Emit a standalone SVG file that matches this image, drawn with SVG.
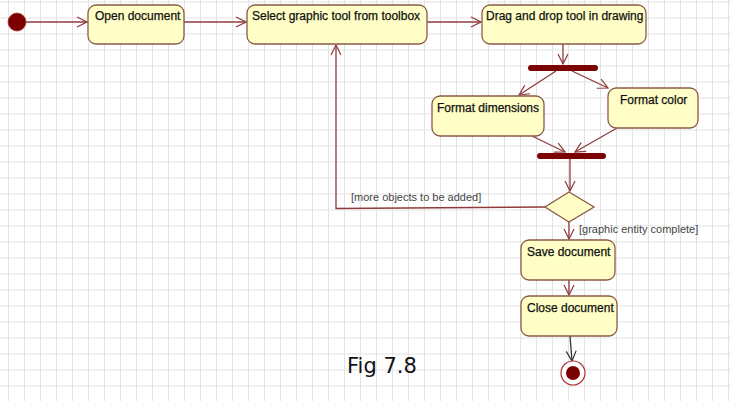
<svg xmlns="http://www.w3.org/2000/svg" width="731" height="401" viewBox="0 0 731 401">
<defs>
<pattern id="grid" width="16" height="16" patternUnits="userSpaceOnUse" x="8" y="1.5">
<path d="M0.5,0 V16 M0,0.5 H16" stroke="#e3e3e3" stroke-width="1" fill="none"/>
</pattern>
<marker id="arr" markerUnits="userSpaceOnUse" markerWidth="12" markerHeight="12" viewBox="0 0 12 12" refX="11" refY="6" orient="auto">
<path d="M1,1 L11,6 L1,11" fill="none" stroke="#8e3b3b" stroke-width="1.2"/>
</marker>
<marker id="arrk" markerUnits="userSpaceOnUse" markerWidth="12" markerHeight="12" viewBox="0 0 12 12" refX="11" refY="6" orient="auto">
<path d="M1,1 L11,6 L1,11" fill="none" stroke="#333" stroke-width="1.2"/>
</marker>
</defs>
<style>
.box{fill:#fefec6;stroke:#8a5a45;stroke-width:1.3}
.t{font-family:"Liberation Sans",Arial,sans-serif;font-size:12px;fill:#111;stroke:#111;stroke-width:0.25}
.g{font-family:"Liberation Sans",Arial,sans-serif;font-size:11px;fill:#444}
.c{fill:none;stroke:#8e3b3b;stroke-width:1.3}
.bar{fill:#7b0505}
</style>
<rect width="731" height="401" fill="#ffffff"/>
<rect width="731" height="401" fill="url(#grid)"/>

<g id="connectors">
<line class="c" x1="26" y1="22" x2="87" y2="22" marker-end="url(#arr)"/>
<line class="c" x1="184" y1="22" x2="246" y2="22" marker-end="url(#arr)"/>
<line class="c" x1="427" y1="22" x2="481" y2="22" marker-end="url(#arr)"/>
<line class="c" x1="563" y1="44" x2="563" y2="64" marker-end="url(#arr)"/>
<line class="c" x1="556" y1="71" x2="519" y2="95" marker-end="url(#arr)"/>
<line class="c" x1="572" y1="71" x2="608" y2="88" marker-end="url(#arr)"/>
<line class="c" x1="532" y1="136" x2="565" y2="152" marker-end="url(#arr)"/>
<line class="c" x1="617" y1="128" x2="575" y2="152" marker-end="url(#arr)"/>
<line class="c" x1="570" y1="159" x2="570" y2="191" marker-end="url(#arr)"/>
<polyline class="c" points="545,207 336,208.5 336,45" marker-end="url(#arr)"/>
<line class="c" x1="569" y1="222" x2="569" y2="239" marker-end="url(#arr)"/>
<line class="c" x1="569" y1="280" x2="569" y2="295" marker-end="url(#arr)"/>
<line x1="570" y1="336" x2="572" y2="361" stroke="#333" stroke-width="1.3" marker-end="url(#arrk)"/>
<text class="g" x="351" y="201">[more objects to be added]</text>
<text class="g" x="579" y="233">[graphic entity complete]</text>
</g>

<g id="initial">
<circle cx="17" cy="22" r="9" fill="#7b0000" stroke="#a33" stroke-width="0.8"/>
</g>

<g id="open-document">
<rect class="box" x="88" y="5" width="96" height="39" rx="8"/>
<text class="t" x="95" y="20">Open document</text>
</g>

<g id="select-tool">
<rect class="box" x="247" y="5" width="180" height="39" rx="8"/>
<text class="t" x="252" y="20">Select graphic tool from toolbox</text>
</g>

<g id="drag-drop">
<rect class="box" x="482" y="5" width="164" height="39" rx="8"/>
<text class="t" x="486" y="20">Drag and drop tool in drawing</text>
</g>

<g id="fork">
<rect class="bar" x="528" y="65" width="70" height="6" rx="3"/>
</g>

<g id="format-dimensions">
<rect class="box" x="432" y="96" width="112" height="40" rx="8"/>
<text class="t" x="437" y="112">Format dimensions</text>
</g>

<g id="format-color">
<rect class="box" x="608" y="88" width="90" height="40" rx="8"/>
<text class="t" x="620" y="104">Format color</text>
</g>

<g id="join">
<rect class="bar" x="537" y="153" width="69" height="6" rx="3"/>
</g>

<g id="decision">
<polygon points="569,192 594,207 569,222 545,207" fill="#fefec6" stroke="#8a5a45" stroke-width="1.3"/>
</g>

<g id="save-document">
<rect class="box" x="521" y="240" width="94" height="40" rx="8"/>
<text class="t" x="527" y="256">Save document</text>
</g>

<g id="close-document">
<rect class="box" x="521" y="296" width="96" height="40" rx="8"/>
<text class="t" x="527" y="312">Close document</text>
</g>

<g id="final">
<circle cx="573" cy="373" r="12" fill="#ffffff" stroke="#a33" stroke-width="1.2"/>
<circle cx="573" cy="373" r="7" fill="#7b0000"/>
</g>

<text x="347" y="373" font-family="'DejaVu Sans',Verdana,sans-serif" font-size="21" fill="#111">Fig 7.8</text>
</svg>
